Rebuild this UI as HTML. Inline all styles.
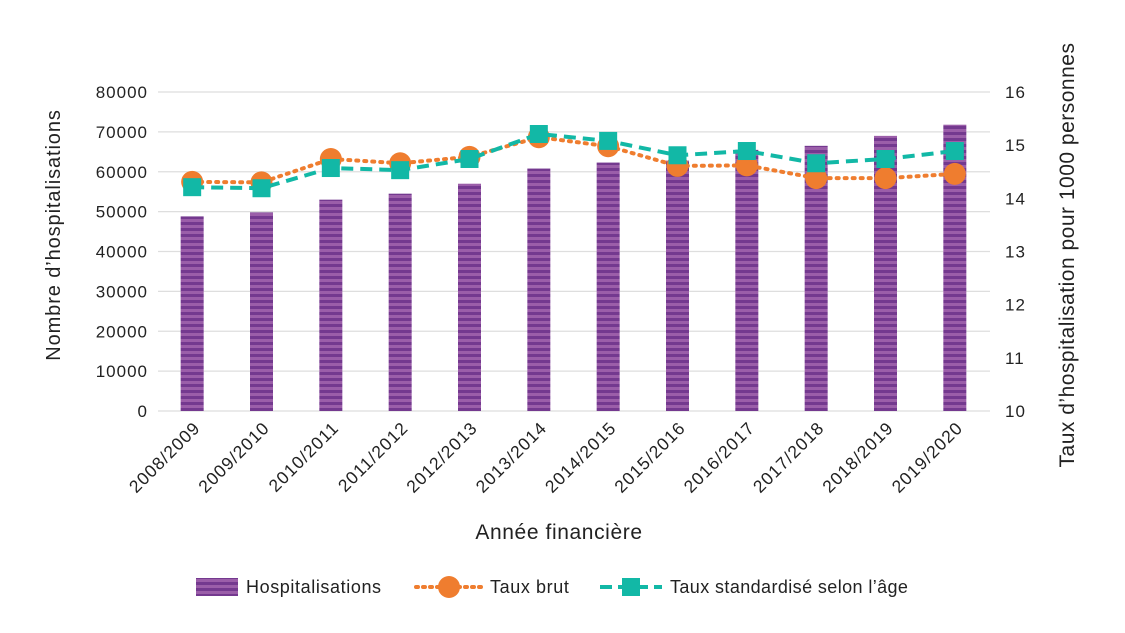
<!DOCTYPE html>
<html><head><meta charset="utf-8"><style>
body{margin:0;background:#fff;}
text{font-family:"Liberation Sans",sans-serif;fill:#222;}
</style></head><body>
<svg id="chart" width="1125" height="628" viewBox="0 0 1125 628" xmlns="http://www.w3.org/2000/svg">
<defs>
<pattern id="stripes" width="10" height="6" patternUnits="userSpaceOnUse">
<rect width="10" height="6" fill="#9b5ea9"/><rect width="10" height="3" fill="#74398f"/>
</pattern>
</defs>
<g id="grid"></g><g id="bars"></g><g id="lines"></g><g id="axes"></g>
<text transform="translate(60,235) rotate(-90)" text-anchor="middle" font-size="20" letter-spacing="0.9">Nombre d’hospitalisations</text>
<text transform="translate(1074,255) rotate(-90)" text-anchor="middle" font-size="21" letter-spacing="0.5">Taux d’hospitalisation pour 1000 personnes</text>
<text x="559" y="539" text-anchor="middle" font-size="21" letter-spacing="0.6">Année financière</text>
<g>
<g><rect x="196" y="578" width="42" height="18" fill="url(#stripes)"/><text x="246" y="593" font-size="18" letter-spacing="0.6">Hospitalisations</text></g>
<g><line x1="416" y1="587" x2="482" y2="587" stroke="#ef7d2f" stroke-width="4" stroke-dasharray="2,5" stroke-linecap="round"/><circle cx="449" cy="587" r="11" fill="#ef7d2f"/><text x="490" y="593" font-size="18" letter-spacing="0.6">Taux brut</text></g>
<g><line x1="600" y1="587" x2="662" y2="587" stroke="#12b8a6" stroke-width="4" stroke-dasharray="12,6"/><rect x="622" y="578" width="18" height="18" fill="#12b8a6"/><text x="670" y="593" font-size="18" letter-spacing="0.4">Taux standardisé selon l’âge</text></g>
</g>
</svg>
<script>
const categories=["2008/2009","2009/2010","2010/2011","2011/2012","2012/2013","2013/2014","2014/2015","2015/2016","2016/2017","2017/2018","2018/2019","2019/2020"];
const hospitalisations=[48800,49800,53000,54500,57000,60800,62300,62800,65500,66500,69000,71800];
const tauxBrut=[14.31,14.30,14.74,14.66,14.78,15.15,14.98,14.61,14.62,14.38,14.38,14.46];
const tauxStd=[14.21,14.19,14.57,14.53,14.74,15.21,15.08,14.81,14.89,14.66,14.74,14.89];
const leftTicks=[0,10000,20000,30000,40000,50000,60000,70000,80000];
const rightTicks=[10,11,12,13,14,15,16];
const NS="http://www.w3.org/2000/svg";
const X0=158,X1=990,Y0=411,Y1=92;
const yL=v=>Y0-(v/80000)*(Y0-Y1);
const yR=v=>Y0-((v-10)/6)*(Y0-Y1);
const step=(X1-X0)/categories.length;
const xC=i=>X0+step*(i+0.5)-0.5;
function mk(tag,attrs,parent){const e=document.createElementNS(NS,tag);for(const k in attrs)e.setAttribute(k,attrs[k]);document.getElementById(parent).appendChild(e);return e;}
leftTicks.forEach(t=>{
 const l=mk('line',{x1:X0,x2:X1,y1:yL(t),y2:yL(t),stroke:'#dedede','stroke-width':1.3},'grid');
 
 
 const tx=mk('text',{x:148,y:yL(t)+6,'text-anchor':'end','font-size':17,'letter-spacing':1},'axes');tx.textContent=t;
 
 
});
rightTicks.forEach(t=>{
 const tx=mk('text',{x:1005,y:yR(t)+6,'font-size':17,'letter-spacing':1},'axes');tx.textContent=t;
 
 
});
categories.forEach((c,i)=>{
 const b=mk('rect',{x:xC(i)-11.5,y:yL(hospitalisations[i]),width:23,height:Y0-yL(hospitalisations[i]),fill:'url(#stripes)'},'bars');
 
 
 const tx=mk('text',{transform:`translate(${xC(i)+9},${429}) rotate(-45)`,'text-anchor':'end','font-size':17.5,'letter-spacing':1},'axes');tx.textContent=c;
 
 
});
const pb=mk('polyline',{points:tauxBrut.map((v,i)=>xC(i)+','+yR(v)).join(' '),fill:'none',stroke:'#ef7d2f','stroke-width':4,'stroke-dasharray':'2,6','stroke-linecap':'round'},'lines');


tauxBrut.forEach((v,i)=>{const c=mk('circle',{cx:xC(i),cy:yR(v),r:11,fill:'#ef7d2f'},'lines');
 
 });
const ps=mk('polyline',{points:tauxStd.map((v,i)=>xC(i)+','+yR(v)).join(' '),fill:'none',stroke:'#12b8a6','stroke-width':4,'stroke-dasharray':'12,7'},'lines');


tauxStd.forEach((v,i)=>{const r=mk('rect',{x:xC(i)-9,y:yR(v)-9,width:18,height:18,fill:'#12b8a6'},'lines');
 
 });
</script>
</body></html>
